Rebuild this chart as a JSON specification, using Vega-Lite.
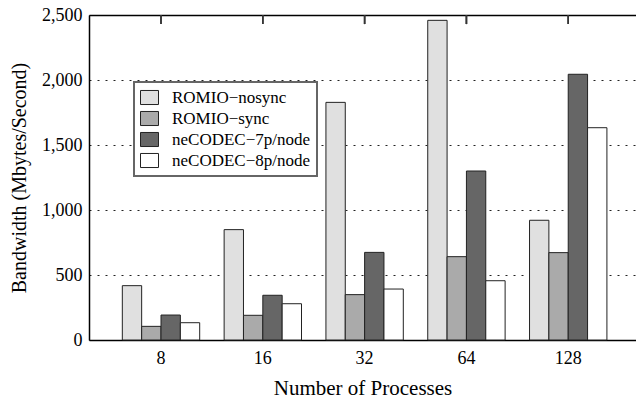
{
  "$schema": "https://vega.github.io/schema/vega-lite/v6.json",
  "width": 547,
  "height": 325,
  "autosize": {"type": "none"},
  "padding": {"left": 89, "top": 15, "right": 0, "bottom": 60},
  "background": "white",
  "config": {
    "font": "Liberation Serif",
    "view": {"stroke": null},
    "axis": {
      "labelFont": "Liberation Serif",
      "titleFont": "Liberation Serif",
      "labelColor": "black",
      "titleColor": "black",
      "domainColor": "black",
      "tickColor": "black",
      "titleFontWeight": "normal"
    },
    "legend": {
      "labelFont": "Liberation Serif"
    }
  },
  "data": {
    "values": [
      {"procs": "8", "method": "ROMIO−nosync", "bw": 418},
      {"procs": "8", "method": "ROMIO−sync", "bw": 105},
      {"procs": "8", "method": "neCODEC−7p/node", "bw": 192},
      {"procs": "8", "method": "neCODEC−8p/node", "bw": 133},
      {"procs": "16", "method": "ROMIO−nosync", "bw": 849},
      {"procs": "16", "method": "ROMIO−sync", "bw": 190},
      {"procs": "16", "method": "neCODEC−7p/node", "bw": 344},
      {"procs": "16", "method": "neCODEC−8p/node", "bw": 279},
      {"procs": "32", "method": "ROMIO−nosync", "bw": 1828},
      {"procs": "32", "method": "ROMIO−sync", "bw": 349},
      {"procs": "32", "method": "neCODEC−7p/node", "bw": 674},
      {"procs": "32", "method": "neCODEC−8p/node", "bw": 392},
      {"procs": "64", "method": "ROMIO−nosync", "bw": 2459},
      {"procs": "64", "method": "ROMIO−sync", "bw": 641},
      {"procs": "64", "method": "neCODEC−7p/node", "bw": 1300},
      {"procs": "64", "method": "neCODEC−8p/node", "bw": 456},
      {"procs": "128", "method": "ROMIO−nosync", "bw": 921},
      {"procs": "128", "method": "ROMIO−sync", "bw": 672},
      {"procs": "128", "method": "neCODEC−7p/node", "bw": 2044},
      {"procs": "128", "method": "neCODEC−8p/node", "bw": 1633}
    ]
  },
  "layer": [
    {
      "mark": {"type": "bar", "stroke": "#222222", "strokeWidth": 1},
      "encoding": {
        "x": {
          "field": "procs",
          "type": "nominal",
          "sort": ["8", "16", "32", "64", "128"],
          "scale": {"paddingInner": 0.24, "paddingOuter": 0.3065, "align": 0.534},
          "axis": {
            "orient": "bottom",
            "title": "Number of Processes",
            "titleFontSize": 21,
            "titleY": 54,
            "titleBaseline": "alphabetic",
            "labelFontSize": 18,
            "labelAngle": 0,
            "labelPadding": 9,
            "ticks": false,
            "domainWidth": 1.5
          }
        },
        "xOffset": {
          "field": "method",
          "type": "nominal",
          "sort": ["ROMIO−nosync", "ROMIO−sync", "neCODEC−7p/node", "neCODEC−8p/node"],
          "scale": {"paddingInner": 0, "paddingOuter": 0}
        },
        "y": {
          "field": "bw",
          "type": "quantitative",
          "scale": {"domain": [0, 2500], "nice": false},
          "axis": {
            "title": "Bandwidth (Mbytes/Second)",
            "titleFontSize": 20,
            "titleX": -64,
            "titleBaseline": "alphabetic",
            "values": [0, 500, 1000, 1500, 2000, 2500],
            "format": ",d",
            "labelFontSize": 18,
            "labelPadding": 7,
            "ticks": false,
            "domainWidth": 1.5,
            "grid": true,
            "gridColor": "#222222",
            "gridDash": [2, 6],
            "gridWidth": 1
          }
        },
        "fill": {
          "field": "method",
          "type": "nominal",
          "scale": {
            "domain": ["ROMIO−nosync", "ROMIO−sync", "neCODEC−7p/node", "neCODEC−8p/node"],
            "range": ["#e0e0e0", "#aaaaaa", "#666666", "#ffffff"]
          },
          "legend": {
            "title": null,
            "orient": "none",
            "legendX": 45,
            "legendY": 67,
            "fillColor": "white",
            "strokeColor": "#666666",
            "padding": 6,
            "labelFontSize": 17,
            "labelColor": "black",
            "labelOffset": 13,
            "rowPadding": 2,
            "symbolType": "M-1,-0.78H1V0.78H-1Z",
            "symbolSize": 324,
            "symbolStrokeColor": "#222222",
            "symbolStrokeWidth": 1,
            "symbolOpacity": 1,
            "encode": {
              "legend": {"update": {"strokeWidth": {"value": 2}}}
            }
          }
        }
      }
    },
    {
      "mark": {"type": "tick", "orient": "vertical", "color": "#333333", "thickness": 1.5, "size": 9},
      "encoding": {
        "x": {
          "field": "procs",
          "type": "nominal",
          "sort": ["8", "16", "32", "64", "128"],
          "axis": {
            "orient": "top",
            "title": null,
            "labels": false,
            "ticks": false,
            "domainWidth": 1.5,
            "grid": false
          }
        },
        "y": {"datum": 2465, "type": "quantitative"}
      }
    }
  ],
  "resolve": {"axis": {"x": "independent"}}
}
